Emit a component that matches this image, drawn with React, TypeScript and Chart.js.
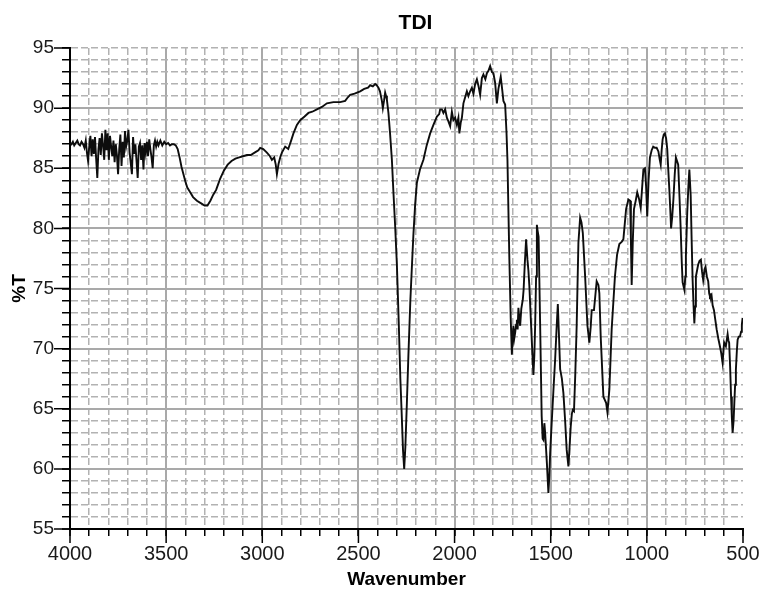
import React, { useEffect, useRef } from 'react';
import { Chart, registerables } from 'chart.js';

Chart.register(...registerables);

const TITLE = 'TDI';
const X_TITLE = 'Wavenumber';
const Y_TITLE = '%T';
const X_MIN = 500;
const X_MAX = 4000;
const X_STEP = 100;
const X_MAJOR = 500;
const Y_MIN = 55;
const Y_MAX = 95;
const Y_STEP = 1;
const Y_MAJOR = 5;

const wavenumber = [
  4000, 3992, 3985, 3978, 3970, 3962, 3955, 3948, 3940, 3932, 3925, 3918, 3912, 3906, 3900, 3894, 3888, 3882, 3876, 3870,
  3864, 3858, 3852, 3846, 3840, 3834, 3828, 3822, 3816, 3810, 3804, 3798, 3792, 3786, 3780, 3774, 3768, 3762, 3756, 3750,
  3744, 3738, 3732, 3726, 3720, 3714, 3708, 3702, 3696, 3690, 3684, 3678, 3672, 3666, 3660, 3654, 3648, 3642, 3636, 3630,
  3624, 3618, 3612, 3606, 3600, 3594, 3588, 3582, 3576, 3570, 3564, 3558, 3552, 3546, 3540, 3530, 3520, 3510, 3500, 3490,
  3480, 3470, 3460, 3450, 3440, 3430, 3420, 3410, 3400, 3390, 3375, 3360, 3340, 3320, 3300, 3285, 3270, 3255, 3240, 3220,
  3200, 3180, 3160, 3140, 3120, 3100, 3080, 3060, 3040, 3020, 3011, 2995, 2976, 2960, 2950, 2938, 2930, 2924, 2915, 2905,
  2898, 2881, 2865, 2850, 2838, 2820, 2803, 2780, 2760, 2740, 2716, 2690, 2664, 2630, 2595, 2569, 2555, 2543, 2520, 2491,
  2470, 2450, 2439, 2425, 2413, 2405, 2396, 2388, 2383, 2378, 2373, 2367, 2361, 2356, 2352, 2344, 2336, 2326, 2318, 2309,
  2300, 2290, 2282, 2276, 2268, 2262, 2256, 2248, 2240, 2230, 2220, 2214, 2205, 2196, 2180, 2162, 2145, 2127, 2110, 2092,
  2080, 2075, 2066, 2058, 2049, 2040, 2032, 2023, 2014, 2006, 1997, 1988, 1980, 1975, 1968, 1962, 1954, 1945, 1936, 1928,
  1919, 1910, 1902, 1893, 1884, 1875, 1867, 1858, 1850, 1840, 1832, 1824, 1815, 1806, 1798, 1789, 1780, 1772, 1760, 1752,
  1746, 1737, 1730, 1725, 1720, 1715, 1708, 1702, 1698, 1694, 1690, 1685, 1680, 1676, 1672, 1668, 1663, 1659, 1653, 1645,
  1641, 1635, 1628, 1621, 1616, 1611, 1605, 1598, 1590, 1585, 1581, 1576, 1572, 1568, 1563, 1555, 1547, 1542, 1538, 1533,
  1529, 1520, 1512, 1507, 1503, 1495, 1486, 1477, 1470, 1463, 1458, 1451, 1442, 1434, 1425, 1417, 1408, 1402, 1396, 1390,
  1385, 1379, 1372, 1365, 1356, 1347, 1340, 1333, 1321, 1309, 1299, 1292, 1287, 1282, 1275, 1261, 1252, 1247, 1240, 1226,
  1212, 1205, 1195, 1183, 1166, 1155, 1143, 1130, 1122, 1108, 1096, 1087, 1083, 1079, 1073, 1067, 1058, 1050, 1040, 1032,
  1018, 1010, 1004, 998, 991, 984, 975, 967, 958, 949, 940, 934, 928, 923, 918, 912, 906, 900, 894, 889,
  883, 878, 874, 868, 862, 855, 849, 843, 837, 830, 824, 818, 814, 805, 800, 797, 790, 784, 779, 772,
  767, 762, 757, 753, 749, 745, 739, 733, 726, 719, 713, 707, 700, 695, 688, 681, 676, 672, 664, 658,
  651, 644, 637, 628, 620, 613, 606, 602, 598, 589, 580, 576, 572, 567, 562, 558, 554, 549, 545, 541,
  537, 532, 528, 522, 516, 510, 506, 502,
];

const transmittance = [
  87.1, 87.0, 87.2, 86.9, 87.1, 87.3, 87.0, 86.9, 87.2, 87.0, 86.7, 87.3, 86.3, 85.6, 86.8, 87.7, 86.0, 87.4, 86.2, 87.6,
  85.8, 84.2, 86.6, 87.5, 86.1, 87.9, 86.9, 85.7, 88.2, 86.5, 87.9, 85.7, 87.7, 86.8, 86.0, 87.3, 85.5, 87.0, 86.1, 84.5,
  86.6, 87.8, 85.2, 87.2, 85.9, 88.1, 86.8, 87.3, 88.2, 86.3, 85.4, 84.5, 87.6, 86.2, 87.0, 85.6, 84.2, 86.8, 87.1, 85.7,
  86.9, 84.9, 87.1, 86.3, 87.2, 86.0, 87.4, 86.6, 85.9, 85.0, 86.9, 87.3, 86.8, 87.2, 86.9, 87.3, 86.9, 87.2, 87.0, 87.1,
  86.9, 87.0, 87.0, 86.9, 86.6, 85.9, 85.1, 84.5, 83.9, 83.4, 83.0, 82.6, 82.3, 82.1, 81.9, 81.9, 82.3, 82.8, 83.2, 84.1,
  84.8, 85.3, 85.6, 85.8, 85.9, 86.0, 86.1, 86.1, 86.3, 86.5, 86.7, 86.6, 86.3, 86.0, 85.7, 85.9, 85.3, 84.5, 85.4, 86.0,
  86.3, 86.8, 86.6, 87.3, 87.9, 88.6, 89.0, 89.3, 89.6, 89.7, 89.9, 90.1, 90.4, 90.5, 90.5, 90.6, 90.9, 91.1, 91.2, 91.4,
  91.6, 91.7, 91.9, 91.8, 92.0, 91.9, 91.7, 91.4, 91.0, 90.6, 90.0, 90.6, 91.3, 91.0, 90.7, 89.6, 88.0, 85.7, 83.0, 80.2,
  77.0, 72.0, 67.5, 65.0, 61.5, 60.0, 61.8, 65.5, 69.5, 74.0, 77.5, 79.5, 82.0, 83.8, 84.9, 85.7, 86.9, 87.9, 88.6, 89.3,
  89.5, 89.9, 89.9, 89.6, 89.9, 89.2, 88.9, 88.5, 89.7, 89.0, 89.2, 88.6, 89.2, 87.9, 88.8, 89.2, 90.4, 90.9, 91.4, 91.0,
  91.4, 91.7, 91.2, 92.0, 92.4, 91.8, 91.1, 92.5, 92.8, 92.4, 92.9, 93.1, 93.5, 93.0, 92.9, 92.1, 90.4, 91.6, 92.6, 91.5,
  90.6, 90.3, 88.0, 85.7, 81.5, 77.4, 72.5, 69.5, 71.0, 71.9, 70.8, 71.3, 72.0, 72.4, 71.6, 73.4, 72.5, 71.9, 73.3, 74.1,
  74.9, 77.0, 79.1, 77.4, 76.5, 75.2, 73.0, 70.5, 67.8, 69.5, 71.9, 76.0, 80.3, 79.8, 79.3, 72.0, 64.4, 62.5, 62.4, 63.8,
  63.0, 60.5, 58.0, 59.5, 61.3, 63.8, 66.5, 69.1, 71.5, 73.7, 71.5, 68.3, 67.5, 66.3, 64.0, 61.6, 60.2, 61.8, 63.5, 64.6,
  64.9, 64.8, 68.0, 71.9, 78.8, 80.9, 80.5, 79.6, 76.0, 71.9, 70.5, 71.8, 73.2, 73.2, 73.2, 75.6, 75.3, 74.6, 71.0, 66.0,
  65.5, 64.7, 66.6, 71.6, 76.0, 77.8, 78.7, 78.9, 79.1, 81.6, 82.4, 82.3, 79.0, 75.3, 79.0, 81.6, 82.3, 83.0, 82.4, 81.7,
  84.9, 85.0, 83.5, 81.0, 84.0, 85.9, 86.5, 86.8, 86.7, 86.7, 86.4, 85.8, 85.3, 86.5, 87.4, 87.8, 87.9, 87.5, 86.6, 85.0,
  83.2, 81.5, 80.0, 81.0, 82.4, 84.5, 85.9, 85.6, 85.3, 82.5, 79.9, 77.0, 75.5, 74.9, 76.0, 77.7, 81.3, 83.5, 84.9, 82.7,
  79.0, 75.7, 73.5, 72.1, 73.5, 76.0, 76.5, 77.0, 77.3, 77.4, 76.4, 75.7, 76.6, 76.8, 76.0, 75.6, 74.6, 74.35, 74.5, 73.6,
  73.2, 72.4, 71.6, 70.8, 70.2, 69.6, 68.8, 69.8, 70.5, 70.2, 71.2, 70.7, 70.5, 68.5, 66.0, 64.3, 63.0, 64.0, 65.5, 67.0,
  68.25, 69.8, 70.75, 71.0, 71.0, 71.4, 72.0, 72.55,
];

const FONT = '"Liberation Sans", Arial, Helvetica, sans-serif';
const GRID_SOLID = '#a9a9a9';
const GRID_DASHED = '#b2b2b2';
const DASH = [7, 3];

const isMajor = (v: number, step: number) => Math.abs(v / step - Math.round(v / step)) < 1e-6;

const decorPlugin = {
  id: 'decor',
  afterDraw(chart: any) {
    const { ctx, chartArea } = chart;
    const xs = chart.scales.x;
    const ys = chart.scales.y;
    ctx.save();
    ctx.strokeStyle = '#000';
    ctx.lineWidth = 1.5;
    ctx.beginPath();
    xs.ticks.forEach((t: any) => {
      if (isMajor(t.value, X_MAJOR)) {
        const px = xs.getPixelForValue(t.value);
        ctx.moveTo(px, chartArea.bottom);
        ctx.lineTo(px, chartArea.bottom + 14);
      }
    });
    ys.ticks.forEach((t: any) => {
      if (isMajor(t.value, Y_MAJOR)) {
        const py = ys.getPixelForValue(t.value);
        ctx.moveTo(chartArea.left, py);
        ctx.lineTo(chartArea.left - 16, py);
      }
    });
    ctx.stroke();
    ctx.font = `bold 21px ${FONT}`;
    ctx.fillStyle = '#000';
    ctx.textAlign = 'center';
    ctx.textBaseline = 'middle';
    ctx.fillText(TITLE, (chartArea.left + chartArea.right) / 2 + 9, 23);
    ctx.restore();
  },
};

export default function App() {
  const ref = useRef<HTMLCanvasElement | null>(null);

  useEffect(() => {
    if (!ref.current) return;
    const points = wavenumber.map((w, i) => ({ x: w, y: transmittance[i] }));
    const chart = new Chart(ref.current, {
      type: 'line',
      data: {
        datasets: [
          {
            label: TITLE,
            data: points,
            borderColor: '#0d0d0d',
            borderWidth: 1.9,
            pointRadius: 0,
            fill: false,
            tension: 0,
          },
        ],
      },
      options: {
        animation: false,
        responsive: false,
        devicePixelRatio: 1,
        layout: { padding: { top: 48, right: 20, left: 0, bottom: 0 } },
        plugins: {
          legend: { display: false },
          title: { display: false },
          tooltip: { enabled: false },
        },
        scales: {
          x: {
            type: 'linear',
            reverse: true,
            min: X_MIN,
            max: X_MAX,
            afterBuildTicks: (s: any) => {
              const t = [];
              for (let v = X_MIN; v <= X_MAX; v += X_STEP) t.push({ value: v });
              s.ticks = t;
            },
            afterFit: (s: any) => {
              s.height = 60;
            },
            ticks: {
              stepSize: X_STEP,
              autoSkip: false,
              maxRotation: 0,
              minRotation: 0,
              padding: 6,
              color: '#1a1a1a',
              font: { family: FONT, size: 20 },
              callback: (v: any) => (isMajor(Number(v), X_MAJOR) ? String(v) : ''),
            },
            grid: {
              color: (c: any) =>
                c.tick && c.tick.value === X_MIN
                  ? 'rgba(0,0,0,0)'
                  : c.tick && isMajor(c.tick.value, X_MAJOR)
                  ? GRID_SOLID
                  : GRID_DASHED,
              lineWidth: (c: any) => (c.tick && isMajor(c.tick.value, X_MAJOR) ? 2 : 1.5),
              tickColor: '#000',
              tickWidth: 1.5,
              tickLength: 7,
              tickBorderDash: [],
            },
            border: {
              display: true,
              color: '#000',
              width: 2,
              dash: (c: any) => (c.tick && !isMajor(c.tick.value, X_MAJOR) ? DASH : []),
            },
            title: {
              display: true,
              text: X_TITLE,
              color: '#000',
              font: { family: FONT, size: 19, weight: 'bold', lineHeight: 1 },
              padding: { top: 0, bottom: 0 },
            },
          },
          y: {
            type: 'linear',
            min: Y_MIN,
            max: Y_MAX,
            afterBuildTicks: (s: any) => {
              const t = [];
              for (let v = Y_MIN; v <= Y_MAX; v += Y_STEP) t.push({ value: v });
              s.ticks = t;
            },
            afterFit: (s: any) => {
              s.width = 70;
            },
            ticks: {
              stepSize: Y_STEP,
              autoSkip: false,
              padding: 8,
              color: '#1a1a1a',
              font: { family: FONT, size: 19 },
              callback: (v: any) => (isMajor(Number(v), Y_MAJOR) ? String(v) : ''),
            },
            grid: {
              color: (c: any) =>
                c.tick && isMajor(c.tick.value, Y_MAJOR) && c.tick.value !== Y_MAX ? GRID_SOLID : GRID_DASHED,
              lineWidth: (c: any) =>
                c.tick && isMajor(c.tick.value, Y_MAJOR) && c.tick.value !== Y_MAX ? 2 : 1.5,
              tickColor: '#000',
              tickWidth: 1.5,
              tickLength: 8,
              tickBorderDash: [],
            },
            border: {
              display: true,
              color: '#000',
              width: 2,
              dash: (c: any) =>
                c.tick && (!isMajor(c.tick.value, Y_MAJOR) || c.tick.value === Y_MAX) ? DASH : [],
            },
            title: {
              display: true,
              text: Y_TITLE,
              color: '#000',
              font: { family: FONT, size: 19, weight: 'bold' },
              padding: { top: 8, bottom: 0 },
            },
          },
        },
      },
      plugins: [decorPlugin],
    });
    return () => chart.destroy();
  }, []);

  return (
    <div style={{ position: 'absolute', left: 0, top: 0, width: 763, height: 589, background: '#fff' }}>
      <canvas ref={ref} width={763} height={589} style={{ display: 'block' }} />
    </div>
  );
}
